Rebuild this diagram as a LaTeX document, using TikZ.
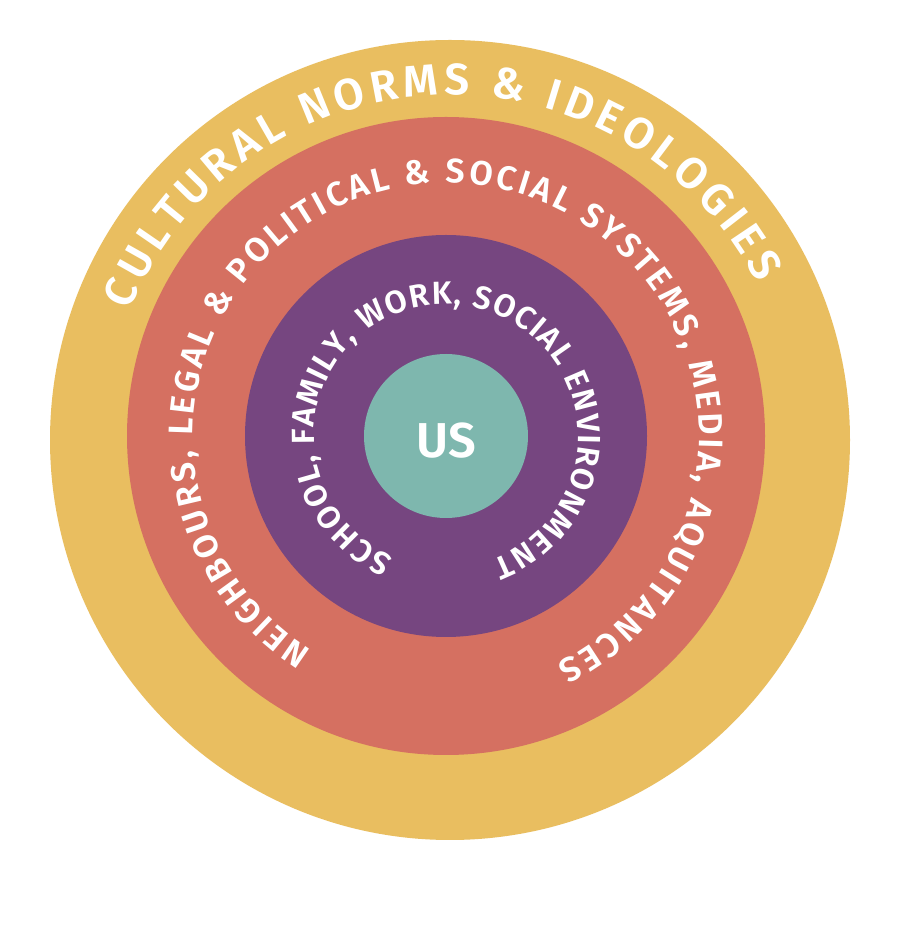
\documentclass[tikz,border=0pt]{standalone}
\usepackage{fontspec}
\setmainfont{Fira Sans}
\IfFontExistsTF{Fira Sans SemiBold}
  {\newfontfamily\ringfont{Fira Sans SemiBold}}
  {\newfontfamily\ringfont{Fira Sans}[UprightFont={* Bold}]}
\usetikzlibrary{decorations.text,calc}
\definecolor{ringyellow}{RGB}{233,190,96}
\definecolor{ringred}{RGB}{213,112,97}
\definecolor{ringpurple}{RGB}{118,70,128}
\definecolor{ringteal}{RGB}{126,183,174}
\begin{document}
\begin{tikzpicture}[x=1pt,y=1pt,
  ring/.style={circle, inner sep=0pt, outer sep=0pt, draw=none}]
\useasboundingbox (0,0) rectangle (900,940);
\fill[white] (0,0) rectangle (900,940);
\node[ring, fill=ringyellow, minimum size=800pt] (outer) at (450,500) {};
\node[ring, fill=ringred, minimum size=638pt] (mid) at (446,504) {};
\node[ring, fill=ringpurple, minimum size=402pt] (inner) at (446,504) {};
\node[ring, fill=ringteal, minimum size=164pt] (core) at (446,504) {};
\node[anchor=base, text=white, font=\ringfont\fontsize{49}{49}\selectfont] (us) at (446,482) {US};
% outer ring text
\path[decorate, decoration={text along path, text align={fit to path}, text color=white,
  text={|\ringfont\fontsize{44}{44}\selectfont|CULTURAL NORMS {\&} IDEOLOGIES}}]
  ($(outer.center)+(158:345)$) arc[start angle=158, end angle=27, radius=345];
% middle ring text
\path[decorate, decoration={text along path, text align={fit to path}, text color=white,
  text={|\ringfont\fontsize{34}{34}\selectfont|NEIGHBOURS, LEGAL {\&} POLITICAL {\&} SOCIAL SYSTEMS, MEDIA, AQUITANCES}}]
  ($(mid.center)+(237.9:253)$) arc[start angle=237.9, end angle=-64, radius=253];
% inner ring text
\path[decorate, decoration={text along path, text align={fit to path}, text color=white,
  text={|\ringfont\fontsize{32}{32}\selectfont|SCHOOL, FAMILY, WORK, SOCIAL ENVIRONMENT}}]
  ($(inner.center)+(246.5:132)$) arc[start angle=246.5, end angle=-69.7, radius=132];
\end{tikzpicture}
\end{document}
